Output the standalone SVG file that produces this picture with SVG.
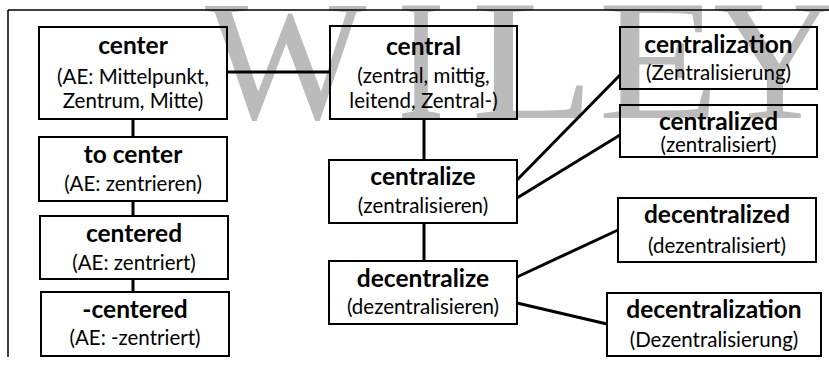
<svg xmlns="http://www.w3.org/2000/svg" width="829" height="365" viewBox="0 0 829 365">
<style>
.box{fill:none;stroke:#000;stroke-width:2}
.t{font-family:Lato,"Liberation Sans",sans-serif;font-weight:bold;font-size:24.5px;text-anchor:middle;fill:#000}
.s{font-family:Lato,"Liberation Sans",sans-serif;font-size:20.5px;text-anchor:middle;fill:#000}
.c{stroke:#000;stroke-width:3;fill:none}
.wm{font-family:"Liberation Serif","Times New Roman",serif;font-size:171px;fill:#bbbbbb}
</style>
<rect width="829" height="365" fill="#fff"/>
<g id="watermark">
<text class="wm" x="205" y="118">W</text>
<text class="wm" x="397" y="118" textLength="48" lengthAdjust="spacingAndGlyphs">I</text>
<text class="wm" x="471" y="118" textLength="124" lengthAdjust="spacingAndGlyphs">L</text>
<text class="wm" x="598" y="118" textLength="122" lengthAdjust="spacingAndGlyphs">E</text>
<text class="wm" x="713" y="118">Y</text>
</g>
<g id="frame" stroke="#000" stroke-width="1.5" fill="none">
<path d="M8,10 H829 M8,10 V357"/>
</g>
<g id="connectors">
<line class="c" x1="227" y1="72" x2="330" y2="72"/>
<line class="c" x1="133" y1="119" x2="133" y2="137"/>
<line class="c" x1="133" y1="201" x2="133" y2="216"/>
<line class="c" x1="133" y1="279" x2="133" y2="292"/>
<line class="c" x1="424" y1="119" x2="424" y2="160"/>
<line class="c" x1="424" y1="223" x2="424" y2="261"/>
<line class="c" x1="517" y1="180" x2="620" y2="75"/>
<line class="c" x1="517" y1="198" x2="620" y2="135"/>
<line class="c" x1="517" y1="277" x2="618" y2="230"/>
<line class="c" x1="517" y1="303" x2="607" y2="324"/>
</g>
<g id="center">
<rect class="box" x="39" y="27" width="188" height="92"/>
<text class="t" x="133" y="54">center</text>
<text class="s" x="133" y="84">(AE: Mittelpunkt,</text>
<text class="s" x="133" y="108">Zentrum, Mitte)</text>
</g>
<g id="to-center">
<rect class="box" x="39" y="137" width="188" height="64"/>
<text class="t" x="133" y="163">to center</text>
<text class="s" x="133" y="191">(AE: zentrieren)</text>
</g>
<g id="centered">
<rect class="box" x="40" y="216" width="188" height="63"/>
<text class="t" x="134" y="242">centered</text>
<text class="s" x="134" y="270">(AE: zentriert)</text>
</g>
<g id="minus-centered">
<rect class="box" x="41" y="292" width="188" height="64"/>
<text class="t" x="135" y="318">-centered</text>
<text class="s" x="135" y="345">(AE: -zentriert)</text>
</g>
<g id="central">
<rect class="box" x="330" y="26" width="187" height="93"/>
<text class="t" x="423.5" y="55">central</text>
<text class="s" x="423.5" y="83">(zentral, mittig,</text>
<text class="s" x="423.5" y="108">leitend, Zentral-)</text>
</g>
<g id="centralize">
<rect class="box" x="329" y="160" width="188" height="63"/>
<text class="t" x="423" y="185">centralize</text>
<text class="s" x="423" y="213">(zentralisieren)</text>
</g>
<g id="decentralize">
<rect class="box" x="329" y="261" width="188" height="63"/>
<text class="t" x="423" y="287">decentralize</text>
<text class="s" x="423" y="314">(dezentralisieren)</text>
</g>
<g id="centralization">
<rect class="box" x="620" y="27" width="197" height="62"/>
<text class="t" x="718.5" y="53">centralization</text>
<text class="s" x="718.5" y="80">(Zentralisierung)</text>
</g>
<g id="centralized">
<rect class="box" x="620" y="105" width="197" height="52"/>
<text class="t" x="718.5" y="130">centralized</text>
<text class="s" x="718.5" y="152">(zentralisiert)</text>
</g>
<g id="decentralized">
<rect class="box" x="618" y="198" width="198" height="64"/>
<text class="t" x="717" y="223">decentralized</text>
<text class="s" x="717" y="253">(dezentralisiert)</text>
</g>
<g id="decentralization">
<rect class="box" x="607" y="293" width="214" height="63"/>
<text class="t" x="714" y="318">decentralization</text>
<text class="s" x="714" y="347">(Dezentralisierung)</text>
</g>
</svg>
